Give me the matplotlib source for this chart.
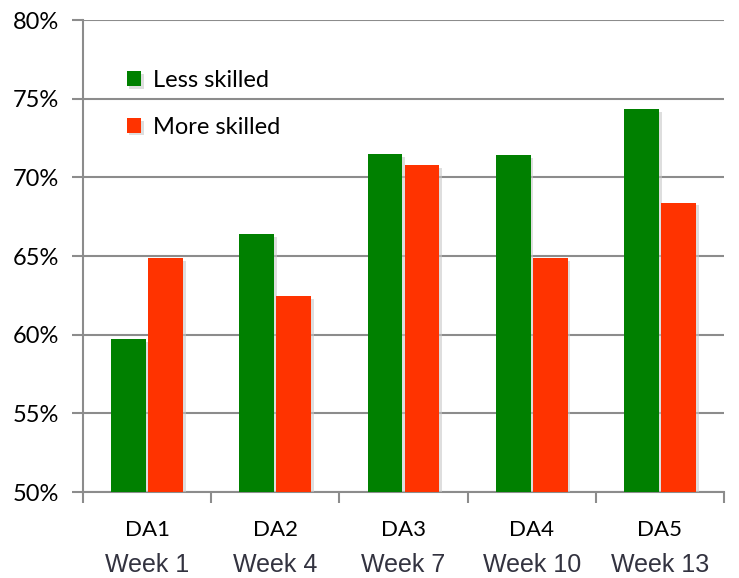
import matplotlib
matplotlib.use("Agg")
import matplotlib.pyplot as plt
import matplotlib.patheffects as pe
from matplotlib.transforms import blended_transform_factory
import numpy as np

categories = ["DA1", "DA2", "DA3", "DA4", "DA5"]
weeks = ["Week 1", "Week 4", "Week 7", "Week 10", "Week 13"]
less_skilled = [59.7, 66.4, 71.5, 71.4, 74.35]
more_skilled = [64.85, 62.45, 70.8, 64.85, 68.4]
yticks = [50, 55, 60, 65, 70, 75, 80]

green = "#008000"
red = "#FF3300"
grid_c = "#8c8c8c"

fig = plt.figure(figsize=(7.39, 5.78), dpi=100)
ax = fig.add_axes([83 / 739, 1 - 492 / 578, (724 - 83) / 739, (492 - 20) / 578])

x = np.arange(len(categories))
w = 0.272
shadow = [pe.SimplePatchShadow(offset=(2, -2), shadow_rgbFace="#c8c8c8", alpha=0.6), pe.Normal()]
ax.bar(x - 0.144, less_skilled, width=w, color=green, label="Less skilled",
       zorder=3, path_effects=shadow)
ax.bar(x + 0.144, more_skilled, width=w, color=red, label="More skilled",
       zorder=3, path_effects=shadow)

ax.set_ylim(50, 80)
ax.set_xlim(-0.5, len(categories) - 0.5)
ax.set_yticks(yticks)
ax.set_yticklabels([f"{v}%" for v in yticks], fontsize=17, family="Lato")
ax.yaxis.grid(True, color=grid_c, linewidth=1.5, zorder=0)
ax.set_axisbelow(True)

# category boundaries carry the x tick marks; labels sit at the centres
ax.set_xticks(np.arange(-0.5, len(categories), 1.0))
ax.set_xticklabels([])
ax.set_xticks(x, minor=True)
ax.set_xticklabels(categories, minor=True, fontsize=16, family="Lato")
ax.tick_params(axis="x", which="minor", length=0, pad=20)
ax.tick_params(axis="x", which="major", length=8, width=1.5, color=grid_c)
ax.tick_params(axis="y", length=8, width=1.5, color=grid_c, pad=9)

for s in ["top", "right"]:
    ax.spines[s].set_visible(False)
for s in ["left", "bottom"]:
    ax.spines[s].set_color(grid_c)
    ax.spines[s].set_linewidth(1.5)

trans = blended_transform_factory(ax.transData, fig.transFigure)
for xi, wk in zip(x, weeks):
    fig.text(xi, 1 - 565 / 578, wk, transform=trans, ha="center", va="center",
             fontsize=18, family="Liberation Sans", color="#333340")

ax.legend(loc="upper left", bbox_to_anchor=(0.035, 0.94), frameon=False,
          prop={"family": "Lato", "size": 17}, handlelength=0.6, handleheight=0.6,
          handletextpad=0.5, labelspacing=1.1)

fig.savefig("out.png", dpi=100)
